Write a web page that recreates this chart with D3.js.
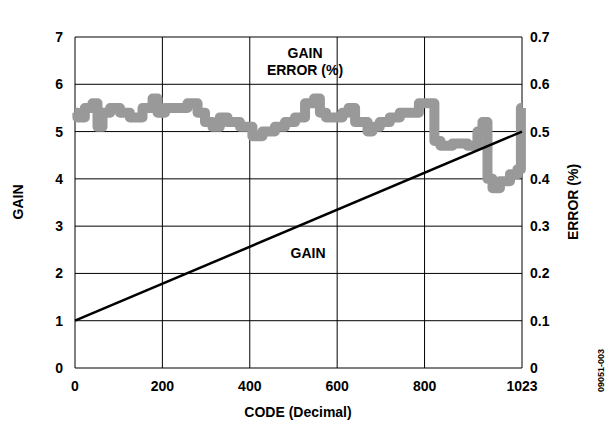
<!DOCTYPE html>
<html><head><meta charset="utf-8">
<script src="https://cdn.jsdelivr.net/npm/d3@7"></script>
<style>body{margin:0;background:#fff}text{font-family:"Liberation Sans",Arial,sans-serif;font-weight:bold}</style>
</head><body><svg id="chart" width="614" height="430"></svg>
<script>
const gainCodes = [0, 1023]
const gainValues = [1, 5]
const errCodes = [0,11,34,46,57,69,92,114,137,172,183,195,217,240,275,286,309,320,343,355,400,412,446,469,492,515,538,556,565,584,606,618,634,648,664,675,686,709,732,755,819,826,847,881,915,927,938,950,961,984,1007,1018,1023]
const errValues = [0.54,0.53,0.55,0.56,0.51,0.54,0.55,0.54,0.53,0.55,0.57,0.54,0.55,0.55,0.56,0.54,0.52,0.51,0.53,0.52,0.51,0.49,0.50,0.51,0.52,0.53,0.56,0.57,0.54,0.53,0.53,0.54,0.55,0.52,0.52,0.50,0.51,0.52,0.53,0.54,0.56,0.48,0.47,0.475,0.47,0.50,0.52,0.40,0.38,0.395,0.41,0.42,0.55]
const xTicks = [0, 200, 400, 600, 800, 1023]

const svg = d3.select('#chart')
const x = d3.scaleLinear().domain([0, 1023]).range([75, 522])
const yL = d3.scaleLinear().domain([0, 7]).range([368, 37])
const yR = d3.scaleLinear().domain([0, 0.7]).range([368, 37])

// grid
svg.append('g').selectAll('line').data(xTicks).join('line')
    .attr('x1', d => x(d)).attr('x2', d => x(d)).attr('y1', 37).attr('y2', 368)
    .attr('stroke', '#000').attr('stroke-width', 1)
svg.append('g').selectAll('line').data(d3.range(0, 8)).join('line')
    .attr('x1', 75).attr('x2', 522).attr('y1', d => yL(d)).attr('y2', d => yL(d))
    .attr('stroke', '#000').attr('stroke-width', 1)

// error line
const errData = errCodes.map((c, i) => [c, errValues[i]])
svg.append('path').datum(errData)
    .attr('fill', 'none').attr('stroke', '#999').attr('stroke-width', 10).attr('stroke-linejoin', 'round')
    .attr('d', d3.line().curve(d3.curveStep).x(d => x(d[0])).y(d => yR(d[1])))

// gain line
svg.append('path').datum(gainCodes.map((c, i) => [c, gainValues[i]]))
    .attr('fill', 'none').attr('stroke', '#000').attr('stroke-width', 2.5)
    .attr('d', d3.line().x(d => x(d[0])).y(d => yL(d[1])))

// tick labels
svg.append('g').selectAll('text').data(xTicks).join('text')
    .attr('x', d => x(d)).attr('y', 391).attr('text-anchor', 'middle').attr('font-size', 14).text(d => d)
svg.append('g').selectAll('text').data(d3.range(0, 8)).join('text')
    .attr('x', 63).attr('y', d => yL(d) + 5).attr('text-anchor', 'end').attr('font-size', 14).text(d => d)
svg.append('g').selectAll('text').data(d3.range(0, 8)).join('text')
    .attr('x', 530).attr('y', d => yL(d) + 5).attr('font-size', 14).text(d => d === 0 ? '0' : (d / 10).toFixed(1))

// titles
svg.append('text').attr('x', 298).attr('y', 417).attr('text-anchor', 'middle').attr('font-size', 14).text('CODE (Decimal)')
svg.append('text').attr('transform', 'translate(23,202) rotate(-90)').attr('text-anchor', 'middle').attr('font-size', 14).text('GAIN')
svg.append('text').attr('transform', 'translate(578,202) rotate(-90)').attr('text-anchor', 'middle').attr('font-size', 14).text('ERROR (%)')
svg.append('text').attr('transform', 'translate(604,392) rotate(-90)').attr('font-size', 9).attr('font-weight', 'normal').text('09051-003')

svg.append('text').attr('x', 305).attr('y', 58).attr('text-anchor', 'middle').attr('font-size', 14).text('GAIN')
svg.append('text').attr('x', 305).attr('y', 75).attr('text-anchor', 'middle').attr('font-size', 14).text('ERROR (%)')
svg.append('text').attr('x', 308).attr('y', 258).attr('text-anchor', 'middle').attr('font-size', 14).text('GAIN')
</script></body></html>
